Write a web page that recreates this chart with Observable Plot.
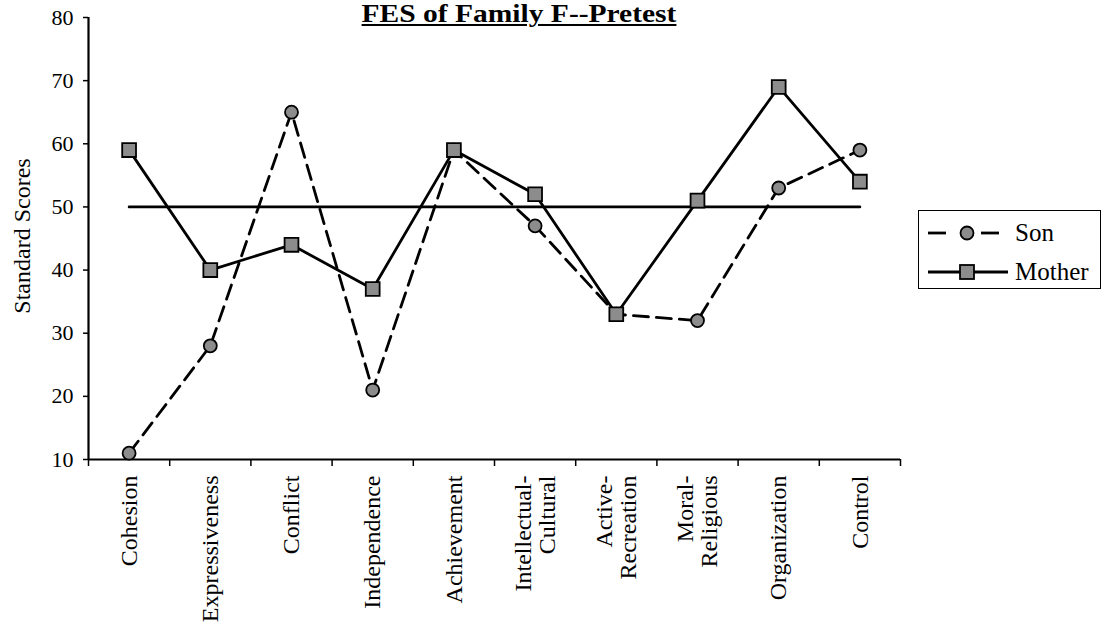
<!DOCTYPE html>
<html><head><meta charset="utf-8">
<script src="https://cdn.jsdelivr.net/npm/d3@7"></script>
<script src="https://cdn.jsdelivr.net/npm/@observablehq/plot@0.6"></script>
<style>
body{margin:0;background:#fff;font-family:"Liberation Serif","Times New Roman",serif;color:#000}
#wrap{position:relative;width:1105px;height:631px;overflow:hidden}
#title{position:absolute;left:519px;top:1px;transform:translateX(-50%) scaleX(1.18);font-size:25px;line-height:25px;font-weight:bold;text-decoration:underline;text-decoration-thickness:2px;text-underline-offset:2px;white-space:nowrap}
#ylab{position:absolute;left:22px;top:236px;transform:translate(-50%,-50%) rotate(-90deg);font-size:24px;line-height:24px;white-space:nowrap}
#legend{position:absolute;left:918px;top:210px;width:181px;height:77px;border:1.5px solid #000;background:#fff}
#legend svg{position:absolute;left:0;top:0}
.lt{position:absolute;left:96px;font-size:25px;line-height:25px;white-space:nowrap}
</style></head><body><div id="wrap"></div>
<script>
const categories = ["Cohesion","Expressiveness","Conflict","Independence","Achievement","Intellectual-\nCultural","Active-\nRecreation","Moral-\nReligious","Organization","Control"];
const sonScores = [11, 28, 65, 21, 59, 47, 33, 32, 53, 59];
const motherScores = [59, 40, 44, 37, 59, 52, 33, 51, 69, 54];
const referenceScore = 50;
const yTicks = [10, 20, 30, 40, 50, 60, 70, 80];
const titleText = "FES of Family F--Pretest";
const yLabelText = "Standard Scores";
const seriesNames = ["Son", "Mother"];

const rows = categories.map((c, i) => ({category: c, pos: i + 0.5, son: sonScores[i], mother: motherScores[i], ref: referenceScore}));
const boundaries = d3.range(categories.length + 1);

const fontFamily = '"Liberation Serif","Times New Roman",serif';
const markerFill = "#8c8c8c";

const chart = Plot.plot({
  width: 1105, height: 631,
  marginLeft: 88, marginRight: 205, marginTop: 17, marginBottom: 172,
  style: {fontFamily, fontSize: "21px", color: "#000", background: "#fff"},
  x: {type: "linear", domain: [0, categories.length], axis: null},
  y: {domain: [10, 80], axis: null},
  marks: [
    Plot.axisY({ticks: yTicks, tickSize: 5, tickPadding: 10, fontSize: 22, label: null, strokeWidth: 1.5}),
    Plot.axisX({ticks: boundaries, tickFormat: () => "", tickSize: 7, label: null, strokeWidth: 1.5}),
    Plot.axisX({ticks: rows.map(d => d.pos), tickFormat: v => categories[Math.round(v - 0.5)], tickSize: 0, tickPadding: 16, tickRotate: -90, fontSize: 24, label: null}),
    Plot.ruleY([10], {strokeWidth: 2.2}),
    Plot.ruleX([0], {strokeWidth: 2.2}),
    Plot.line(rows, {x: "pos", y: "ref", stroke: "#000", strokeWidth: 2.7}),
    Plot.line(rows, {x: "pos", y: "son", stroke: "#000", strokeWidth: 2.8, strokeDasharray: "15,8"}),
    Plot.line(rows, {x: "pos", y: "mother", stroke: "#000", strokeWidth: 2.8}),
    Plot.dot(rows, {x: "pos", y: "son", r: 6.5, fill: markerFill, stroke: "#000", strokeWidth: 1.8}),
    Plot.dot(rows, {x: "pos", y: "mother", symbol: "square", r: 7.8, fill: markerFill, stroke: "#000", strokeWidth: 1.8})
  ]
});

const wrap = document.getElementById("wrap");
wrap.appendChild(chart);

const t = document.createElement("div"); t.id = "title"; t.textContent = titleText; wrap.appendChild(t);
const yl = document.createElement("div"); yl.id = "ylab"; yl.textContent = yLabelText; wrap.appendChild(yl);

const lg = document.createElement("div"); lg.id = "legend";
lg.innerHTML = `<svg width="181" height="77">
  <line x1="9" x2="27" y1="22" y2="22" stroke="#000" stroke-width="2.8"/>
  <line x1="62" x2="80" y1="22" y2="22" stroke="#000" stroke-width="2.8"/>
  <circle cx="48" cy="22" r="6.5" fill="${markerFill}" stroke="#000" stroke-width="1.8"/>
  <line x1="9" x2="89" y1="61" y2="61" stroke="#000" stroke-width="2.8"/>
  <rect x="41" y="54" width="14" height="14" fill="${markerFill}" stroke="#000" stroke-width="1.8"/>
</svg>
<div class="lt" style="top:9px">${seriesNames[0]}</div>
<div class="lt" style="top:48px">${seriesNames[1]}</div>`;
wrap.appendChild(lg);
</script>
</body></html>
